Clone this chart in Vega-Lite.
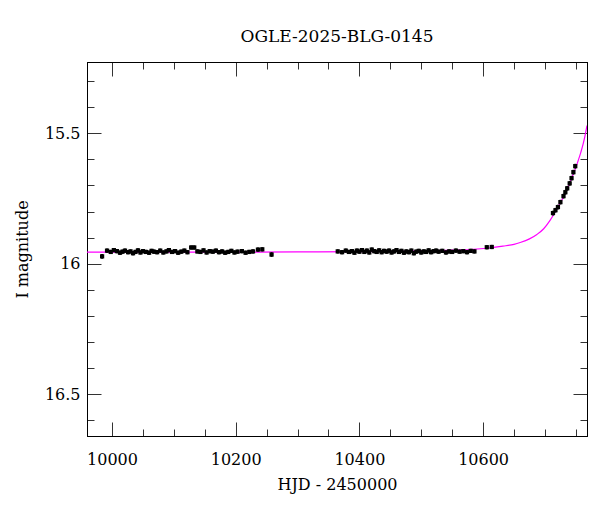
{
  "$schema": "https://vega.github.io/schema/vega-lite/v6.json",
  "width": 500,
  "height": 374,
  "autosize": "none",
  "padding": {"left": 87, "top": 62, "right": 13, "bottom": 76},
  "background": "white",
  "title": {"text": "OGLE-2025-BLG-0145", "font": "DejaVu Serif", "fontSize": 17, "fontWeight": "normal", "color": "black", "offset": 16},
  "config": {
    "view": {"stroke": "black", "strokeWidth": 1},
    "axis": {
      "grid": false,
      "domainColor": "black",
      "tickColor": "#333",
      "tickWidth": 1,
      "labelFont": "DejaVu Serif",
      "labelFontSize": 16,
      "labelColor": "black",
      "titleFont": "DejaVu Serif",
      "titleFontSize": 16,
      "titleFontWeight": "normal",
      "titleColor": "black"
    }
  },
  "datasets": {
    "model": [
      {"hjd": 9959.6, "mag": 15.956},
      {"hjd": 10100, "mag": 15.956},
      {"hjd": 10200, "mag": 15.956},
      {"hjd": 10300, "mag": 15.955},
      {"hjd": 10400, "mag": 15.954},
      {"hjd": 10450, "mag": 15.953},
      {"hjd": 10500, "mag": 15.951},
      {"hjd": 10540, "mag": 15.949},
      {"hjd": 10579, "mag": 15.946},
      {"hjd": 10610, "mag": 15.940},
      {"hjd": 10632, "mag": 15.933},
      {"hjd": 10650, "mag": 15.926},
      {"hjd": 10660, "mag": 15.919},
      {"hjd": 10675, "mag": 15.905},
      {"hjd": 10687, "mag": 15.888},
      {"hjd": 10698, "mag": 15.866},
      {"hjd": 10708, "mag": 15.835},
      {"hjd": 10717, "mag": 15.800},
      {"hjd": 10724, "mag": 15.770},
      {"hjd": 10730, "mag": 15.744},
      {"hjd": 10737, "mag": 15.708},
      {"hjd": 10744, "mag": 15.667},
      {"hjd": 10749, "mag": 15.637},
      {"hjd": 10754, "mag": 15.603},
      {"hjd": 10758, "mag": 15.573},
      {"hjd": 10762, "mag": 15.539},
      {"hjd": 10765, "mag": 15.507},
      {"hjd": 10768, "mag": 15.470}
    ],
    "obs": [
      {"hjd": 9984, "mag": 15.972, "err": 0.009},
      {"hjd": 9992, "mag": 15.950, "err": 0.008},
      {"hjd": 9998, "mag": 15.955, "err": 0.008},
      {"hjd": 10003, "mag": 15.948, "err": 0.008},
      {"hjd": 10008, "mag": 15.952, "err": 0.008},
      {"hjd": 10013, "mag": 15.958, "err": 0.008},
      {"hjd": 10017, "mag": 15.954, "err": 0.008},
      {"hjd": 10021, "mag": 15.950, "err": 0.008},
      {"hjd": 10026, "mag": 15.956, "err": 0.008},
      {"hjd": 10030, "mag": 15.953, "err": 0.008},
      {"hjd": 10034, "mag": 15.960, "err": 0.008},
      {"hjd": 10038, "mag": 15.955, "err": 0.008},
      {"hjd": 10042, "mag": 15.949, "err": 0.008},
      {"hjd": 10046, "mag": 15.957, "err": 0.008},
      {"hjd": 10050, "mag": 15.952, "err": 0.008},
      {"hjd": 10055, "mag": 15.955, "err": 0.008},
      {"hjd": 10060, "mag": 15.958, "err": 0.008},
      {"hjd": 10064, "mag": 15.951, "err": 0.008},
      {"hjd": 10068, "mag": 15.954, "err": 0.008},
      {"hjd": 10073, "mag": 15.956, "err": 0.008},
      {"hjd": 10078, "mag": 15.950, "err": 0.008},
      {"hjd": 10083, "mag": 15.957, "err": 0.008},
      {"hjd": 10088, "mag": 15.953, "err": 0.008},
      {"hjd": 10092, "mag": 15.948, "err": 0.008},
      {"hjd": 10097, "mag": 15.955, "err": 0.008},
      {"hjd": 10102, "mag": 15.952, "err": 0.008},
      {"hjd": 10107, "mag": 15.958, "err": 0.008},
      {"hjd": 10112, "mag": 15.954, "err": 0.008},
      {"hjd": 10117, "mag": 15.950, "err": 0.008},
      {"hjd": 10122, "mag": 15.956, "err": 0.008},
      {"hjd": 10128, "mag": 15.938, "err": 0.008},
      {"hjd": 10133, "mag": 15.938, "err": 0.008},
      {"hjd": 10138, "mag": 15.953, "err": 0.008},
      {"hjd": 10143, "mag": 15.955, "err": 0.008},
      {"hjd": 10148, "mag": 15.949, "err": 0.008},
      {"hjd": 10153, "mag": 15.957, "err": 0.008},
      {"hjd": 10158, "mag": 15.952, "err": 0.008},
      {"hjd": 10163, "mag": 15.954, "err": 0.008},
      {"hjd": 10168, "mag": 15.950, "err": 0.008},
      {"hjd": 10173, "mag": 15.956, "err": 0.008},
      {"hjd": 10178, "mag": 15.953, "err": 0.008},
      {"hjd": 10183, "mag": 15.958, "err": 0.008},
      {"hjd": 10188, "mag": 15.955, "err": 0.008},
      {"hjd": 10193, "mag": 15.951, "err": 0.008},
      {"hjd": 10198, "mag": 15.957, "err": 0.008},
      {"hjd": 10203, "mag": 15.954, "err": 0.008},
      {"hjd": 10210, "mag": 15.952, "err": 0.008},
      {"hjd": 10216, "mag": 15.958, "err": 0.008},
      {"hjd": 10222, "mag": 15.955, "err": 0.008},
      {"hjd": 10228, "mag": 15.953, "err": 0.008},
      {"hjd": 10236, "mag": 15.946, "err": 0.008},
      {"hjd": 10243, "mag": 15.945, "err": 0.008},
      {"hjd": 10258, "mag": 15.965, "err": 0.009},
      {"hjd": 10365, "mag": 15.953, "err": 0.008},
      {"hjd": 10372, "mag": 15.956, "err": 0.008},
      {"hjd": 10378, "mag": 15.950, "err": 0.008},
      {"hjd": 10383, "mag": 15.955, "err": 0.008},
      {"hjd": 10388, "mag": 15.952, "err": 0.008},
      {"hjd": 10392, "mag": 15.958, "err": 0.008},
      {"hjd": 10396, "mag": 15.950, "err": 0.008},
      {"hjd": 10400, "mag": 15.954, "err": 0.008},
      {"hjd": 10404, "mag": 15.948, "err": 0.008},
      {"hjd": 10408, "mag": 15.955, "err": 0.008},
      {"hjd": 10412, "mag": 15.950, "err": 0.008},
      {"hjd": 10416, "mag": 15.957, "err": 0.008},
      {"hjd": 10420, "mag": 15.946, "err": 0.008},
      {"hjd": 10424, "mag": 15.952, "err": 0.008},
      {"hjd": 10428, "mag": 15.955, "err": 0.008},
      {"hjd": 10432, "mag": 15.949, "err": 0.008},
      {"hjd": 10436, "mag": 15.956, "err": 0.008},
      {"hjd": 10440, "mag": 15.951, "err": 0.008},
      {"hjd": 10444, "mag": 15.954, "err": 0.008},
      {"hjd": 10448, "mag": 15.950, "err": 0.008},
      {"hjd": 10452, "mag": 15.957, "err": 0.008},
      {"hjd": 10456, "mag": 15.953, "err": 0.008},
      {"hjd": 10460, "mag": 15.948, "err": 0.008},
      {"hjd": 10464, "mag": 15.955, "err": 0.008},
      {"hjd": 10468, "mag": 15.951, "err": 0.008},
      {"hjd": 10472, "mag": 15.958, "err": 0.008},
      {"hjd": 10476, "mag": 15.953, "err": 0.008},
      {"hjd": 10480, "mag": 15.956, "err": 0.008},
      {"hjd": 10484, "mag": 15.950, "err": 0.008},
      {"hjd": 10488, "mag": 15.960, "err": 0.008},
      {"hjd": 10492, "mag": 15.954, "err": 0.008},
      {"hjd": 10496, "mag": 15.951, "err": 0.008},
      {"hjd": 10500, "mag": 15.957, "err": 0.008},
      {"hjd": 10504, "mag": 15.953, "err": 0.008},
      {"hjd": 10508, "mag": 15.955, "err": 0.008},
      {"hjd": 10512, "mag": 15.949, "err": 0.008},
      {"hjd": 10516, "mag": 15.956, "err": 0.008},
      {"hjd": 10520, "mag": 15.952, "err": 0.008},
      {"hjd": 10524, "mag": 15.950, "err": 0.008},
      {"hjd": 10528, "mag": 15.954, "err": 0.008},
      {"hjd": 10534, "mag": 15.951, "err": 0.008},
      {"hjd": 10540, "mag": 15.957, "err": 0.008},
      {"hjd": 10545, "mag": 15.953, "err": 0.008},
      {"hjd": 10550, "mag": 15.955, "err": 0.008},
      {"hjd": 10556, "mag": 15.950, "err": 0.008},
      {"hjd": 10562, "mag": 15.954, "err": 0.008},
      {"hjd": 10568, "mag": 15.952, "err": 0.008},
      {"hjd": 10574, "mag": 15.956, "err": 0.008},
      {"hjd": 10580, "mag": 15.951, "err": 0.008},
      {"hjd": 10586, "mag": 15.953, "err": 0.008},
      {"hjd": 10606, "mag": 15.937, "err": 0.008},
      {"hjd": 10614, "mag": 15.936, "err": 0.008},
      {"hjd": 10713, "mag": 15.806, "err": 0.009},
      {"hjd": 10717, "mag": 15.795, "err": 0.009},
      {"hjd": 10721, "mag": 15.783, "err": 0.009},
      {"hjd": 10725, "mag": 15.764, "err": 0.009},
      {"hjd": 10730, "mag": 15.741, "err": 0.009},
      {"hjd": 10733, "mag": 15.726, "err": 0.009},
      {"hjd": 10736, "mag": 15.711, "err": 0.009},
      {"hjd": 10740, "mag": 15.692, "err": 0.009},
      {"hjd": 10743, "mag": 15.672, "err": 0.009},
      {"hjd": 10746, "mag": 15.649, "err": 0.009},
      {"hjd": 10749, "mag": 15.626, "err": 0.009}
    ]
  },
  "resolve": {"axis": {"x": "independent", "y": "independent"}},
  "layer": [
    {
      "data": {"name": "model"},
      "mark": {"type": "line", "color": "#ff00ff", "strokeWidth": 1.2, "interpolate": "monotone", "clip": true},
      "encoding": {
        "x": {"field": "hjd", "type": "quantitative",
              "scale": {"domain": [9959.6, 10768], "nice": false, "zero": false},
              "axis": {"orient": "bottom", "values": [10000, 10200, 10400, 10600], "format": "d", "tickSize": -14, "labelPadding": 29, "title": "HJD - 2450000", "titlePadding": 9}},
        "y": {"field": "mag", "type": "quantitative",
              "scale": {"domain": [15.2265, 16.661], "reverse": true, "nice": false, "zero": false},
              "axis": {"orient": "left", "values": [15.5, 16, 16.5], "format": "~g", "tickSize": -14, "labelPadding": 21, "title": "I magnitude", "titlePadding": 14}}
      }
    },
    {
      "data": {"name": "obs"},
      "mark": {"type": "errorbar", "color": "black", "ticks": false, "thickness": 2},
      "encoding": {
        "x": {"field": "hjd", "type": "quantitative",
              "axis": {"orient": "bottom", "values": [10050, 10100, 10150, 10250, 10300, 10350, 10450, 10500, 10550, 10650, 10700, 10750], "tickSize": -7, "labels": false, "title": null}},
        "y": {"field": "mag", "type": "quantitative",
              "axis": {"orient": "left", "values": [15.3, 15.4, 15.6, 15.7, 15.8, 15.9, 16.1, 16.2, 16.3, 16.4, 16.6], "tickSize": -7, "labels": false, "title": null}},
        "yError": {"field": "err"}
      }
    },
    {
      "data": {"name": "obs"},
      "mark": {"type": "square", "color": "black", "opacity": 1, "size": 18},
      "encoding": {
        "x": {"field": "hjd", "type": "quantitative",
              "axis": {"orient": "top", "values": [10000, 10200, 10400, 10600], "tickSize": -14, "labels": false, "title": null}},
        "y": {"field": "mag", "type": "quantitative",
              "axis": {"orient": "right", "values": [15.5, 16, 16.5], "tickSize": -14, "labels": false, "title": null}}
      }
    },
    {
      "data": {"name": "obs"},
      "mark": {"type": "point", "opacity": 0},
      "encoding": {
        "x": {"field": "hjd", "type": "quantitative",
              "axis": {"orient": "top", "values": [10050, 10100, 10150, 10250, 10300, 10350, 10450, 10500, 10550, 10650, 10700, 10750], "tickSize": -7, "labels": false, "title": null}},
        "y": {"field": "mag", "type": "quantitative",
              "axis": {"orient": "right", "values": [15.3, 15.4, 15.6, 15.7, 15.8, 15.9, 16.1, 16.2, 16.3, 16.4, 16.6], "tickSize": -7, "labels": false, "title": null}}
      }
    }
  ]
}
